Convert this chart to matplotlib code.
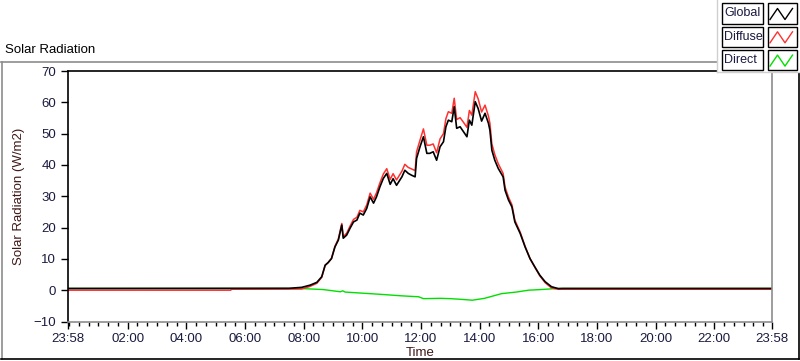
import pandas as pd
import matplotlib
matplotlib.use("Agg")
import matplotlib.pyplot as plt
from matplotlib.lines import Line2D
from matplotlib.patches import Rectangle

DAY = "2020-01-02 "
START = "2020-01-01 23:58"
END = DAY + "23:58"

# daytime samples shared by Global and Diffuse (HH:MM)
day_times = ["07:30", "07:56", "08:13", "08:27", "08:37", "08:44", "08:50", "08:57",
             "09:04", "09:11", "09:18", "09:21", "09:28", "09:35", "09:42", "09:49",
             "09:55", "10:02", "10:09", "10:16", "10:23", "10:29", "10:36", "10:43",
             "10:50", "10:57", "11:03", "11:10", "11:21", "11:27", "11:34", "11:41",
             "11:48", "11:51", "11:58", "12:05", "12:12", "12:18", "12:25", "12:32",
             "12:39", "12:46", "12:51", "12:56", "13:03", "13:08", "13:13", "13:20",
             "13:27", "13:34", "13:39", "13:44", "13:51", "13:57", "14:04", "14:11",
             "14:18", "14:21", "14:25", "14:31", "14:38", "14:48", "14:52", "14:59",
             "15:06", "15:12", "15:23", "15:33", "15:43", "15:53", "16:03", "16:14",
             "16:27", "16:41", "16:50"]

global_day = [0.6, 0.9, 1.6, 2.5, 4.3, 8.0, 8.8, 10.1,
              13.8, 16.0, 20.8, 16.6, 17.6, 19.8, 21.8, 22.4,
              24.6, 24.0, 26.1, 29.8, 27.8, 29.8, 33.0, 35.7,
              37.3, 33.8, 35.6, 33.5, 36.2, 38.3, 37.3, 36.7,
              36.2, 42.1, 45.8, 49.0, 43.7, 43.7, 44.2, 41.5,
              45.8, 47.4, 52.2, 54.3, 53.8, 58.6, 51.7, 52.2,
              50.6, 49.0, 54.3, 52.7, 60.2, 58.0, 54.0, 56.5,
              53.3, 51.1, 44.7, 41.5, 38.9, 36.2, 31.9, 28.8,
              26.6, 21.8, 18.1, 13.8, 10.1, 7.4, 4.8, 2.7,
              1.1, 0.5, 0.55]

diffuse_day = [0.35, 0.4, 1.2, 2.2, 4.1, 7.9, 8.8, 10.2,
               14.0, 16.4, 21.3, 17.1, 18.2, 20.5, 22.6, 23.3,
               25.5, 25.0, 27.2, 31.0, 29.0, 31.1, 34.3, 37.1,
               38.8, 35.4, 37.2, 35.2, 38.0, 40.2, 39.2, 38.7,
               38.2, 44.2, 47.9, 51.5, 46.3, 46.3, 46.7, 43.9,
               48.3, 50.0, 54.8, 57.0, 56.5, 61.3, 54.5, 55.1,
               53.6, 52.0, 57.4, 55.9, 63.4, 61.1, 56.9, 59.1,
               55.6, 53.3, 46.7, 43.3, 40.4, 37.3, 32.9, 29.7,
               27.3, 22.4, 18.5, 14.0, 10.1, 7.3, 4.6, 2.4,
               0.7, 0.3, 0.3]

global_night = 0.55
diffuse_night_early = 0.0   # until ~05:31
diffuse_night = 0.3

direct_times = ["07:30", "07:56", "08:13", "08:40", "09:15", "09:20", "09:25", "09:45",
                "10:35", "11:20", "11:55", "12:05", "12:40", "13:00", "13:20", "13:45",
                "14:10", "14:45", "15:15", "15:40", "16:05", "16:35", "16:45"]
direct_day = [0.55, 0.5, 0.4, 0.2, -0.5, -0.2, -0.6, -0.8,
              -1.3, -1.8, -2.1, -2.7, -2.6, -2.7, -2.9, -3.2,
              -2.6, -1.1, -0.6, 0.0, 0.2, 0.5, 0.55]

x_ticks = ["02:00", "04:00", "06:00", "08:00", "10:00", "12:00",
           "14:00", "16:00", "18:00", "20:00", "22:00"]

# build the series
t_day = pd.to_datetime([DAY + t for t in day_times])
g_t = [pd.Timestamp(START)] + list(t_day) + [pd.Timestamp(END)]
g_v = [global_night] + global_day + [global_night]
d_t = [pd.Timestamp(START), pd.Timestamp(DAY + "05:31"), pd.Timestamp(DAY + "05:32")] \
    + list(t_day) + [pd.Timestamp(END)]
d_v = [diffuse_night_early, diffuse_night_early, diffuse_night] + diffuse_day + [diffuse_night]
r_t = [pd.Timestamp(START)] + list(pd.to_datetime([DAY + t for t in direct_times])) + [pd.Timestamp(END)]
r_v = [global_night] + direct_day + [global_night]

fig = plt.figure(figsize=(8, 3.61), dpi=100)
W, H = 800, 361
plt.rcParams['font.family'] = ['Liberation Sans', 'DejaVu Sans']

def fx(px):
    return px / W

def fy(py):
    return 1 - py / H

ax = fig.add_axes([fx(68), fy(321.5), fx(772) - fx(68), fy(71) - fy(321.5)])
ax.plot(r_t, r_v, color="#00e000", lw=1.0)
ax.plot(d_t, d_v, color="#ff3030", lw=1.1)
ax.plot(g_t, g_v, color="black", lw=1.2)

ax.set_xlim(pd.Timestamp(START), pd.Timestamp(END))
ax.set_ylim(-10, 70)
ax.set_yticks(range(-10, 71, 10))

major = [pd.Timestamp(START)] + list(pd.to_datetime([DAY + t for t in x_ticks])) + [pd.Timestamp(END)]
ax.set_xticks(major)
ax.set_xticklabels(["23:58"] + x_ticks + ["23:58"])
minor = pd.date_range(DAY + "00:00", DAY + "23:40", freq="20min")
ax.set_xticks(minor, minor=True)

tick_col = "#1a1a40"
ax.tick_params(axis="both", which="major", direction="out", length=5, width=1,
               colors="black", labelcolor=tick_col, labelsize=9.5)
ax.tick_params(axis="x", which="minor", direction="out", length=3, width=1, colors="black")
ax.tick_params(axis="x", which="major", pad=3)

for s in ["left", "top"]:
    ax.spines[s].set_color("black")
for s in ["right", "bottom"]:
    ax.spines[s].set_color("#8c8c8c")
for s in ax.spines.values():
    s.set_linewidth(1.2)

lab_col = "#401818"
ax.set_ylabel("Solar Radiation (W/m2)", color=lab_col, fontsize=9.5, labelpad=6)
ax.set_xlabel("Time", color=lab_col, fontsize=9.5, labelpad=2)

# panel frame and title
fig.text(fx(5), fy(50), "Solar Radiation", fontsize=9.5, color="black", va="center", ha="left")
fig.add_artist(Line2D([fx(1), fx(717)], [fy(61.5), fy(61.5)], color="#8c8c8c", lw=1.2))
fig.add_artist(Line2D([fx(1.5), fx(1.5)], [fy(61.5), fy(359)], color="#8c8c8c", lw=1.2))
fig.add_artist(Line2D([fx(1), fx(798.5)], [fy(359), fy(359)], color="black", lw=1.2))
fig.add_artist(Line2D([fx(798.5), fx(798.5)], [fy(72), fy(359)], color="black", lw=1.2))

# legend panel
fig.add_artist(Rectangle((fx(717), fy(72)), 1 - fx(717), fy(0) - fy(72),
                         facecolor="white", edgecolor="none", zorder=5))
fig.add_artist(Line2D([fx(717), fx(800)], [fy(72), fy(72)], color="#d0d0d0", lw=1, zorder=6))
fig.add_artist(Line2D([fx(717), fx(717)], [fy(0), fy(72)], color="#d0d0d0", lw=1, zorder=6))

names = ["Global", "Diffuse", "Direct"]
colors = ["black", "#ff3030", "#00e000"]
for i, (nm, c) in enumerate(zip(names, colors)):
    top = 3.5 + i * 23.3
    bot = top + 20
    fig.add_artist(Rectangle((fx(721.5), fy(bot)), fx(763) - fx(721.5), fy(top) - fy(bot),
                             facecolor="white", edgecolor="black", lw=1, zorder=7))
    fig.text(fx(724), fy((top + bot) / 2), nm, fontsize=9, color=tick_col,
             va="center", ha="left", zorder=8)
    fig.add_artist(Rectangle((fx(767.5), fy(bot)), fx(797) - fx(767.5), fy(top) - fy(bot),
                             facecolor="white", edgecolor="black", lw=1, zorder=7))
    zx = [770, 777.5, 785, 792.5]
    zy = [bot - 4, top + 5, bot - 4, top + 5]
    fig.add_artist(Line2D([fx(v) for v in zx], [fy(v) for v in zy], color=c, lw=1, zorder=8))

fig.savefig("out.png", dpi=100)
